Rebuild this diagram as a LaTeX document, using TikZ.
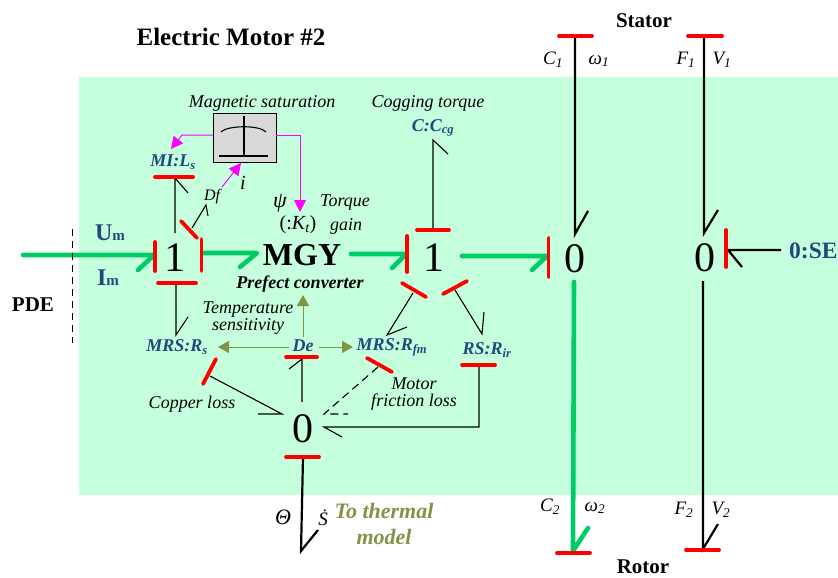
\documentclass[tikz,border=0pt]{standalone}
\usepackage{fontspec}
\setmainfont{Liberation Serif}
\usetikzlibrary{arrows.meta}
\definecolor{hmint}{RGB}{198,255,221}
\definecolor{hgreen}{RGB}{0,204,102}
\definecolor{hblue}{RGB}{31,73,125}
\definecolor{holive}{RGB}{127,148,71}
\definecolor{hgrey}{RGB}{217,217,217}
\definecolor{hpink}{RGB}{255,0,255}

\begin{document}
\begin{tikzpicture}[x=1pt,y=-1pt,
  every node/.style={inner sep=0pt,text=black},
  bond/.style={black,line width=1.1pt},
  heavy/.style={black,line width=2.2pt},
  power/.style={hgreen,line width=4.6pt,line cap=round,line join=round},
  stroke/.style={red,line width=3.8pt,line cap=round},
  signal/.style={hpink,line width=1pt,-{Triangle[length=12pt,width=12pt]}},
  sense/.style={holive,line width=1pt,-{Triangle[length=11pt,width=12pt]}},
  junction/.style={font=\fontsize{42}{42}\selectfont},
  element/.style={text=hblue,font=\fontsize{18}{18}\selectfont\bfseries\itshape},
  note/.style={font=\fontsize{18}{17}\selectfont\itshape,align=center},
  var/.style={font=\fontsize{19}{19}\selectfont\itshape},
  title/.style={font=\fontsize{21}{21}\selectfont\bfseries}]

\useasboundingbox (0,0) rectangle (838,578);

% background
\fill[hmint] (79,77) rectangle (838,495);

% junctions
\node[junction] (one1) at (175,258) {1};
\node[font=\fontsize{32}{32}\selectfont\bfseries] (mgy) at (302,255) {MGY};
\node[junction] (one2) at (434,258) {1};
\node[junction] (zero1) at (575,259) {0};
\node[junction] (zero2) at (705,258) {0};
\node[junction] (zero3) at (303,429) {0};

% elements
\node[element] (mi) at (173,162) {MI:L\textsubscript{s}};
\node[element] (mrss) at (177,347) {MRS:R\textsubscript{s}};
\node[element] (de) at (303,346) {De};
\node[element] (mrsf) at (392,347) {MRS:R\textsubscript{fm}};
\node[element] (rsir) at (487,350) {RS:R\textsubscript{ir}};
\node[element] (ccg) at (433,128) {C:C\textsubscript{cg}};
\node[text=hblue,font=\fontsize{23.5}{23.5}\selectfont\bfseries,anchor=west] (se) at (789,251) {0:SE};

% saturation box
\node[draw=black,line width=1pt,fill=hgrey,minimum width=63pt,minimum height=49pt] (sat) at (244.5,137.5) {};
\draw[line width=1.1pt] (244,116) -- (244,156);
\draw[line width=1.1pt] (219,156) -- (268,156);
\draw[line width=1.1pt] (221,132) .. controls (228,125) and (260,125) .. (266,132);

% bond ends
\coordinate (inA) at (23,255);
\coordinate (inB) at (154,255);
\coordinate (mgyA) at (203,253);
\coordinate (mgyB) at (257,253);
\coordinate (mgyC) at (351,254);
\coordinate (mgyD) at (406,254);
\coordinate (outA) at (462,256);
\coordinate (outB) at (547,256);
\coordinate (rotA) at (574,282);
\coordinate (rotB) at (573,551);
\coordinate (lsA) at (175,233);
\coordinate (lsB) at (175,178);
\coordinate (dfA) at (192,228);
\coordinate (dfB) at (206,205);
\coordinate (rsA) at (176,284);
\coordinate (rsB) at (176,335);
\coordinate (cgA) at (433,229);
\coordinate (cgB) at (433,140);
\coordinate (fmA) at (413,293);
\coordinate (fmB) at (387,335);
\coordinate (irA) at (455,290);
\coordinate (irB) at (482,334);
\coordinate (lossA) at (210,376);
\coordinate (lossB) at (282,414);
\coordinate (dashA) at (378,367);
\coordinate (dashB) at (324,414);
\coordinate (deA) at (302,402);
\coordinate (deB) at (302,359);
\coordinate (frA) at (479,366);
\coordinate (frB) at (479,427);
\coordinate (frC) at (324,427);
\coordinate (thA) at (303,457);
\coordinate (thB) at (301,551);
\coordinate (stA) at (575,36);
\coordinate (stB) at (575,234);
\coordinate (vtA) at (704,36);
\coordinate (vtB) at (704,233);
\coordinate (vbA) at (703,281);
\coordinate (vbB) at (703,549);
\coordinate (seA) at (781,250);
\coordinate (seB) at (728,250);

% power bonds
\draw[power] (inA) -- (inB) -- ++(-16,15);
\draw[power] (mgyA) -- (mgyB) -- ++(-17,14);
\draw[power] (mgyC) -- (mgyD) -- ++(-14,14);
\draw[power] (outA) -- (outB) -- ++(-15,14);
\draw[power] (rotA) -- (rotB) -- ++(15,-23);

% bonds
\draw[bond] (lsA) -- (lsB) -- ++(13,15);
\draw[bond] (dfA) -- (dfB) -- ++(2,11);
\draw[bond] (rsA) -- (rsB) -- ++(12,-18);
\draw[bond] (cgA) -- (cgB) -- ++(15,14);
\draw[bond] (fmA) -- (fmB) -- ++(20,-8);
\draw[bond] (irA) -- (irB) -- ++(2,-22);
\draw[bond] (lossA) -- (lossB) -- ++(-24,0);
\draw[bond,dashed,dash pattern=on 8pt off 5pt] (dashA) -- (dashB) -- ++(24,0);
\draw[bond] (deA) -- (deB) -- ++(-13,10);
\draw[bond] (frA) -- (frB) -- (frC) -- ++(18,10);
\draw[heavy] (thA) -- (thB) -- ++(17,-21);
\draw[heavy] (stA) -- (stB) -- ++(13,-23);
\draw[heavy] (vtA) -- (vtB) -- ++(14,-23);
\draw[heavy] (vbA) -- (vbB) -- ++(15,-25);
\draw[heavy] (seA) -- (seB) -- ++(14,17);

% causal strokes
\draw[stroke] (155,242) -- (155,271);
\draw[stroke] (201.5,239) -- (201.5,271);
\draw[stroke] (158,283) -- (196,283);
\draw[stroke] (181,221) -- (197,238);
\draw[stroke] (155,177) -- (193,177);
\draw[stroke] (407,236) -- (407,272);
\draw[stroke] (417,230) -- (449,230);
\draw[stroke] (402,283) -- (426,297);
\draw[stroke] (443,294) -- (467,281);
\draw[stroke] (548.5,238) -- (548.5,277);
\draw[stroke] (726,230) -- (726,267);
\draw[stroke] (216,359) -- (203,384);
\draw[stroke] (286,357) -- (317,357);
\draw[stroke] (367,358) -- (392,372);
\draw[stroke] (462,365) -- (495,365);
\draw[stroke] (286,457) -- (319,457);
\draw[stroke] (559,36) -- (592,36);
\draw[stroke] (688,36) -- (722,36);
\draw[stroke] (557,553) -- (590,553);
\draw[stroke] (686,550) -- (719,550);

% signals
\coordinate (iA) at (222,187);
\coordinate (iB) at (241,163);
\coordinate (ktT) at (300,212);
\coordinate (miT) at (171,149);
\coordinate (satL) at (213,135);
\coordinate (satR) at (276,135);
\draw[signal] (satL) -- (182,135) -- (miT);
\draw[signal] (satR) -- (300,135) -- (ktT);
\draw[signal] (iA) -- (iB);
\coordinate (deN) at (303,337);
\coordinate (deW) at (289,347);
\coordinate (deE) at (319,347);
\coordinate (tempT) at (303,295);
\coordinate (rsT) at (218,347);
\coordinate (fmT) at (353,347);
\draw[sense] (deN) -- (tempT);
\draw[sense] (deW) -- (rsT);
\draw[sense] (deE) -- (fmT);

% border of the model
\coordinate (pdeA) at (72,229);
\coordinate (pdeB) at (72,343);
\draw[line width=1pt,dashed,dash pattern=on 7pt off 5pt] (pdeA) -- (pdeB);

% labels
\node[font=\fontsize{25}{25}\selectfont\bfseries] (name) at (231,37) {Electric Motor \#2};
\node[title] (stator) at (644,21) {Stator};
\node[title] (rotor) at (643,567) {Rotor};
\node[font=\fontsize{21}{21}\selectfont\bfseries] (pde) at (33,305) {PDE};
\node[text=hblue,font=\fontsize{24}{24}\selectfont\bfseries] (um) at (110,233) {U\fontsize{15}{15}\selectfont m};
\node[text=hblue,font=\fontsize{24}{24}\selectfont\bfseries] (im) at (108,278) {I\fontsize{15}{15}\selectfont m};
\node[note] (magsat) at (262,103) {Magnetic saturation};
\node[note] (cog) at (428,103) {Cogging torque};
\node[font=\fontsize{16}{16}\selectfont\itshape] (df) at (212,197) {Df};
\node[font=\fontsize{20}{20}\selectfont\itshape] (ilabel) at (243,183) {i};
\node[font=\fontsize{22}{22}\selectfont\itshape] (psi) at (280,203) {ψ};
\node[note] (torque) at (345,203) {Torque};
\node[note] (gain) at (346,226) {gain};
\node[font=\fontsize{20}{20}\selectfont] (kt) at (298,225) {(:\textit{K\textsubscript{t}})};
\node[font=\fontsize{18}{18}\selectfont\bfseries\itshape] (conv) at (300,284) {Prefect converter};
\node[note] (temp) at (248,318.5) {Temperature\\sensitivity};
\node[note] (copper) at (192,404) {Copper loss};
\node[note] (motor) at (414,394) {Motor\\friction loss};
\node[var] (cone) at (553,60) {C\textsubscript{1}};
\node[var] (wone) at (599,61) {ω\textsubscript{1}};
\node[var] (fone) at (686,60) {F\textsubscript{1}};
\node[var] (vone) at (722,60) {V\textsubscript{1}};
\node[var] (ctwo) at (550,507) {C\textsubscript{2}};
\node[var] (wtwo) at (595,508) {ω\textsubscript{2}};
\node[var] (ftwo) at (684,510) {F\textsubscript{2}};
\node[var] (vtwo) at (721,510) {V\textsubscript{2}};
\node[font=\fontsize{22}{22}\selectfont\itshape] (theta) at (283,517) {Θ};
\node[var] (sdot) at (323,518) {\.S};
\node[text=holive,font=\fontsize{22}{26}\selectfont\bfseries\itshape,align=center] (thermal) at (384,524) {To thermal\\model};
\end{tikzpicture}
\end{document}
